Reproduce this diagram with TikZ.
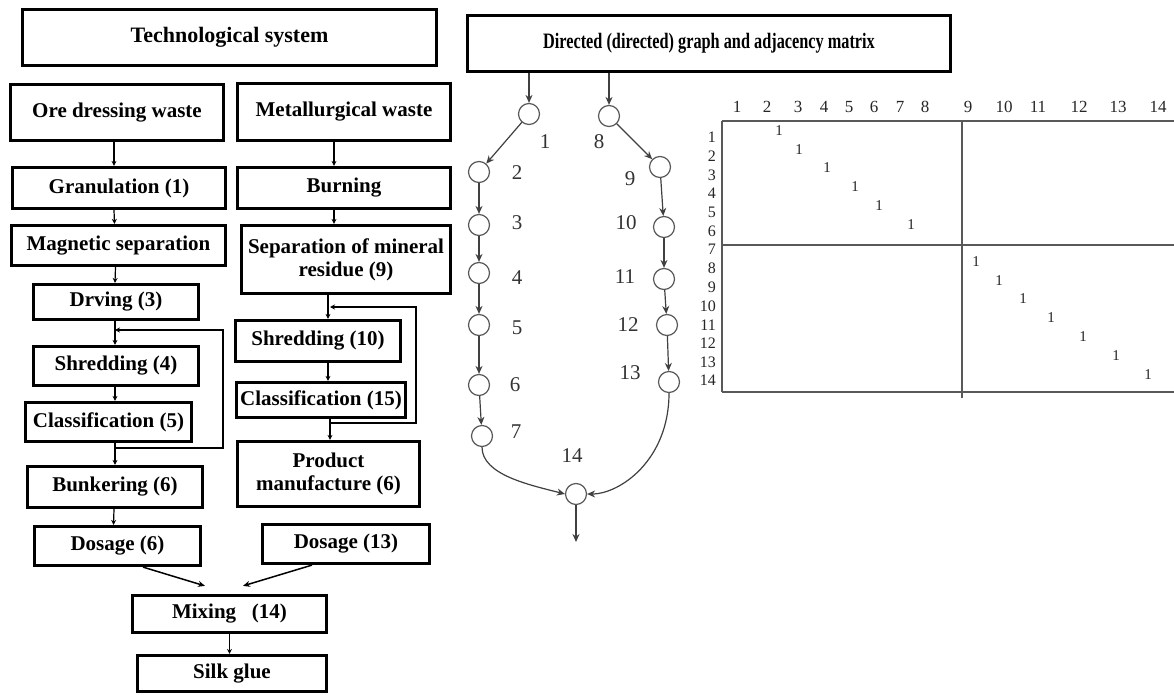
\documentclass[tikz,border=0pt]{standalone}
\usepackage{fontspec}
\setmainfont{Liberation Serif}
\usetikzlibrary{arrows.meta}
\begin{document}
\begin{tikzpicture}[x=1pt,y=-1pt,
  box/.style={draw, line width=3.2pt, font=\bfseries\fontsize{21}{23}\selectfont, align=center, inner sep=1pt},
  arr/.style={-{Stealth[length=5pt,width=5pt]}, line width=1.2pt},
  circ/.style={circle, draw=black!65, line width=1.2pt, minimum size=21pt, inner sep=0pt},
  glab/.style={font=\fontsize{21}{23}\selectfont, text=black!80, inner sep=0pt},
  garr/.style={-{Stealth[length=8pt,width=7pt]}, line width=1.2pt, draw=black!75},
  mline/.style={line width=1.6pt, draw=black!65},
  mhead/.style={font=\fontsize{17}{19}\selectfont, text=black!85, inner sep=0pt},
  mrow/.style={font=\fontsize{16}{18}\selectfont, text=black!85, inner sep=0pt, anchor=east},
  mone/.style={font=\fontsize{15}{17}\selectfont, text=black!85, inner sep=0pt}]
\useasboundingbox (0,0) rectangle (1174,695);
\fill[white] (0,0) rectangle (1174,695);
% ---------- left flowchart ----------
\node[box, line width=2.8pt, minimum width=414pt, minimum height=56pt, font=\bfseries\fontsize{22}{24}\selectfont] (tech) at (229.5,37.5) {Technological system};
\node[box, minimum width=213pt, minimum height=56pt] (ore) at (117,112.5) {Ore dressing waste};
\node[box, minimum width=213pt, minimum height=57pt] (met) at (344,112) {Metallurgical waste};
\node[box, minimum width=213pt, minimum height=41pt] (gran) at (119,188) {Granulation (1)};
\node[box, minimum width=213pt, minimum height=41pt] (burn) at (344,188) {Burning};
\node[box, minimum width=214pt, minimum height=40pt] (mag) at (118.5,245.5) {Magnetic separation};
\node[box, minimum width=209pt, minimum height=68pt] (sep) at (346,259.5) {Separation of mineral\\residue (9)};
\node[box, minimum width=165pt, minimum height=35pt] (dry) at (116,302) {Drving (3)};
\node[box, minimum width=165pt, minimum height=39pt] (shr4) at (116,366) {Shredding (4)};
\node[box, minimum width=166pt, minimum height=39pt] (cls5) at (108.5,422) {Classification (5)};
\node[box, minimum width=175pt, minimum height=41pt] (bunk) at (115,487) {Bunkering (6)};
\node[box, minimum width=166pt, minimum height=39pt] (dos6) at (117.5,546) {Dosage (6)};
\node[box, minimum width=165pt, minimum height=41pt] (shr10) at (318,341) {Shredding (10)};
\node[box, minimum width=169pt, minimum height=35pt] (cls15) at (321,400) {Classification (15)};
\node[box, minimum width=182pt, minimum height=65pt] (prod) at (328.5,474) {Product\\manufacture (6)};
\node[box, minimum width=167pt, minimum height=39pt] (dos13) at (346,544) {Dosage (13)};
\node[box, minimum width=194pt, minimum height=37pt] (mix) at (229.5,614) {Mixing\ \ \ (14)};
\node[box, minimum width=189pt, minimum height=36pt] (silk) at (232,673.5) {Silk glue};

\draw[arr] ([xshift=-3pt]ore.south) -- ([xshift=-5pt]gran.north);
\draw[arr] ([xshift=-10pt]met.south) -- ([xshift=-10pt]burn.north);
\draw[arr] ([xshift=-5pt]gran.south) -- ([xshift=-4pt]mag.north);
\draw[arr] ([xshift=-10pt]burn.south) -- ([xshift=-12pt]sep.north);
\draw[arr] ([xshift=-3pt]mag.south) -- ([xshift=-1pt]dry.north);
\draw[arr] ([xshift=-1pt]dry.south) -- ([xshift=-1pt]shr4.north);
\draw[arr] ([xshift=-1pt]shr4.south) -- ([xshift=-1pt]shr4.south |- cls5.north);
\coordinate (lb) at (115,448);
\coordinate (lt) at (115,330);
\draw[arr] (cls5.south -| lb) -- (bunk.north -| lb);
\draw[arr] (lb) -- ++(108,0) |- (lt);
\draw[arr] ([xshift=-1pt]bunk.south) -- ([xshift=-4pt]dos6.north);
\coordinate (rb) at (330,423);
\coordinate (rt) at (330,307);
\draw[arr] ([xshift=-18pt]sep.south) -- ([xshift=10pt]shr10.north);
\draw[arr] ([xshift=10pt]shr10.south) -- ([xshift=7pt]cls15.north);
\draw[arr] (cls15.south -| rb) -- (prod.north -| rb);
\draw[arr] (rb) -- ++(86,0) |- (rt);
\draw[line width=1.5pt, -{Stealth[length=7pt,width=6pt]}] ([xshift=25.5pt]dos6.south) -- ([xshift=-24.5pt,yshift=8pt]mix.north);
\draw[line width=1.5pt, -{Stealth[length=7pt,width=6pt]}] ([xshift=-34pt]dos13.south) -- ([xshift=13.5pt,yshift=8pt]mix.north);
\draw[arr] (mix.south) -- (mix.south |- silk.north);

% ---------- graph ----------
\node[box, line width=2.6pt, minimum width=483pt, minimum height=56pt, font=\bfseries\fontsize{22}{24}\selectfont] (gh) at (709,43.5) {\scalebox{0.74}[1]{Directed (directed) graph and adjacency matrix}};
\node[circ] (c1) at (529,114) {};
\node[circ] (c2) at (479,172) {};
\node[circ] (c3) at (479,225) {};
\node[circ] (c4) at (479,273) {};
\node[circ] (c5) at (479,325) {};
\node[circ] (c6) at (479,385) {};
\node[circ] (c7) at (482,436) {};
\node[circ] (c8) at (609,116) {};
\node[circ] (c9) at (660,167) {};
\node[circ] (c10) at (664,227) {};
\node[circ] (c11) at (664,279) {};
\node[circ] (c12) at (667,325) {};
\node[circ] (c13) at (669,382) {};
\node[circ] (c14) at (576,494) {};
\coordinate (out14) at (576,542);
\node[glab] (l1) at (545,142) {1};
\node[glab] (l2) at (517,173) {2};
\node[glab] (l3) at (517,223) {3};
\node[glab] (l4) at (517,278) {4};
\node[glab] (l5) at (517,328) {5};
\node[glab] (l6) at (515,385) {6};
\node[glab] (l7) at (516,432) {7};
\node[glab] (l8) at (599,142) {8};
\node[glab] (l9) at (630,179) {9};
\node[glab] (l10) at (626,223) {10};
\node[glab] (l11) at (625,277) {11};
\node[glab] (l12) at (628,325) {12};
\node[glab] (l13) at (630,373) {13};
\node[glab] (l14) at (572,456) {14};
\draw[garr] (gh.south -| c1) -- (c1);
\draw[garr] (gh.south -| c8) -- (c8);
\draw[garr] (c1) -- (c2);
\draw[garr] (c2) -- (c3);
\draw[garr] (c3) -- (c4);
\draw[garr] (c4) -- (c5);
\draw[garr] (c5) -- (c6);
\draw[garr] (c6) -- (c7);
\draw[garr] (c8) -- (c9);
\draw[garr] (c9) -- (c10);
\draw[garr] (c10) -- (c11);
\draw[garr] (c11) -- (c12);
\draw[garr] (c12) -- (c13);
\draw[garr] (c7.south) .. controls (482,475) and (530,485) .. (c14.west);
\draw[garr] (c13.south) .. controls (669,460) and (620,494) .. (c14.east);
\draw[garr] (c14) -- (out14);

% ---------- adjacency matrix ----------
\draw[mline] (722,121) -- (1174,121);
\draw[mline] (722,245) -- (1174,245);
\draw[mline] (722,392) -- (1174,392);
\draw[mline] (722,121) -- (722,392);
\draw[mline] (962,121) -- (962,398);
\foreach \x/\t in {737/1,767/2,798/3,824/4,849/5,874/6,900/7,925/8,968/9,1004/10,1038/11,1079/12,1118/13,1158/14}
  \node[mhead] at (\x,107) {\t};
\foreach \y/\t in {137/1,156/2,175/3,193/4,212/5,231/6,249/7,268/8,287/9,306/10,325/11,343/12,362/13,380/14}
  \node[mrow] at (716,\y) {\t};
\foreach \x/\y in {779/131,799/150,827/168,855/187,879/206,911/225,976/262,999/281,1023/299,1051/318,1083/337,1116/356,1148/375}
  \node[mone] at (\x,\y) {1};
\end{tikzpicture}
\end{document}
